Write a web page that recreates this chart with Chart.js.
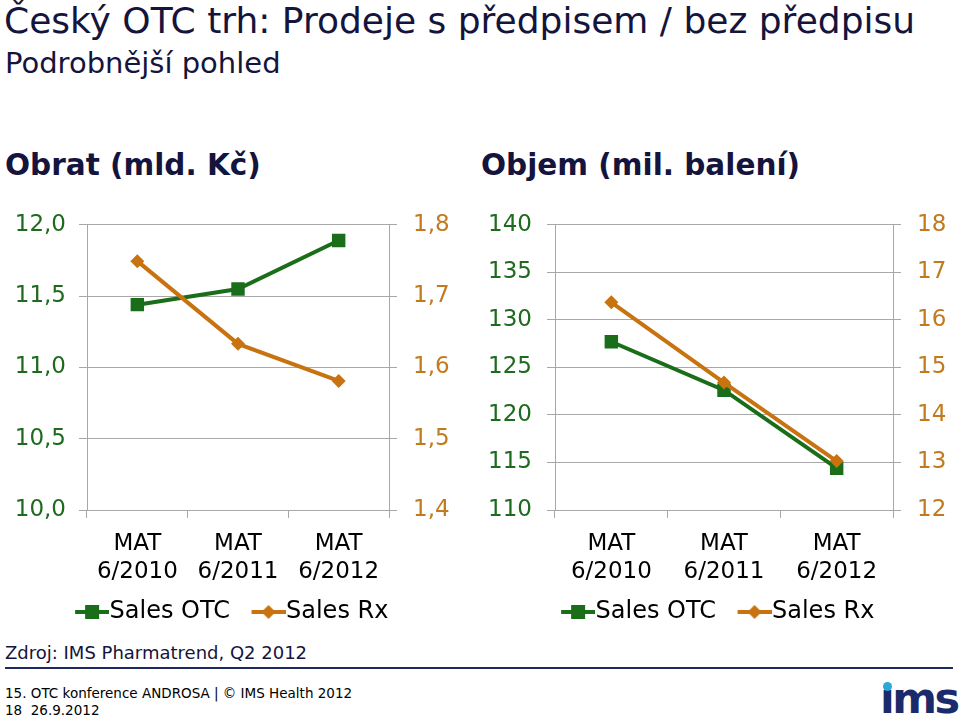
<!DOCTYPE html>
<html>
<head>
<meta charset="utf-8">
<script src="https://cdn.jsdelivr.net/npm/chart.js@4.4.1/dist/chart.umd.min.js"></script>
<style>
  body { margin: 0; background: #fff; font-family: 'DejaVu Sans', Verdana, sans-serif; color: #14143c; }
  .abs { position: absolute; white-space: nowrap; }
  #title { left: 4px; top: 0px; font-size: 36px; }
  #subtitle { left: 5px; top: 46px; font-size: 29px; }
  .head { font-size: 29.5px; font-weight: bold; top: 148px; }
  #src { left: 5px; top: 642px; font-size: 18px; }
  #rule { left: 5px; top: 667px; width: 948px; height: 2px; background: #1e2a5e; }
  .foot { left: 5px; font-size: 13.5px; color: #000; }
  #logo { left: 880px; top: 673px; font-size: 43px; font-weight: bold; color: #1b2a6b; letter-spacing: -2.5px; }
  #dot { left: 883px; top: 682px; width: 9px; height: 9px; border-radius: 50%; background: #2aa8d6; }
</style>
</head>
<body>
<div id="title" class="abs">Český OTC trh: Prodeje s předpisem / bez předpisu</div>
<div id="subtitle" class="abs">Podrobnější pohled</div>
<div class="abs head" style="left:5px">Obrat (mld. Kč)</div>
<div class="abs head" style="left:481px">Objem (mil. balení)</div>

<div class="abs" style="left:0;top:195px;width:470px;height:439px"><canvas id="chartValue"></canvas></div>
<div class="abs" style="left:470px;top:195px;width:490px;height:439px"><canvas id="chartVolume"></canvas></div>

<div id="src" class="abs">Zdroj: IMS Pharmatrend, Q2 2012</div>
<div id="rule" class="abs"></div>
<div class="abs foot" style="top:685px">15. OTC konference ANDROSA | © IMS Health 2012</div>
<div class="abs foot" style="top:702px">18&nbsp;&nbsp;26.9.2012</div>
<div id="logo" class="abs">ıms</div>
<div id="dot" class="abs"></div>

<script>
const categories = [['MAT', '6/2010'], ['MAT', '6/2011'], ['MAT', '6/2012']];
const seriesNames = ['Sales OTC', 'Sales Rx'];

// Obrat (mld. Kč)
const otcValue = [11.44, 11.55, 11.89];
const rxValue = [1.749, 1.633, 1.581];
// Objem (mil. balení)
const otcVolume = [127.7, 122.6, 114.4];
const rxVolume = [16.37, 14.68, 13.03];

const green = '#1a6e1a';
const orange = '#c8730f';
const greenText = '#1e6a1e';
const orangeText = '#c27a1e';
const gridColor = '#a8a8a8';

Chart.defaults.font.family = "'DejaVu Sans', Verdana, sans-serif";
Chart.defaults.font.size = 23;
Chart.defaults.color = '#000';

// legend symbol: line with marker, drawn in the right 34px of a 57px canvas
function legendIcon(color, shape) {
  let c = document.createElement('canvas');
  c.width = 57; c.height = 16;
  let ctx = c.getContext('2d');
  let x0 = 23;
  ctx.strokeStyle = color;
  ctx.lineWidth = 4;
  ctx.beginPath(); ctx.moveTo(x0, 8); ctx.lineTo(x0 + 34, 8); ctx.stroke();
  ctx.fillStyle = color;
  if (shape === 'rect') {
    ctx.fillRect(x0 + 10, 1, 14, 14);
  } else {
    ctx.beginPath();
    ctx.moveTo(x0 + 17, 1); ctx.lineTo(x0 + 24, 8); ctx.lineTo(x0 + 17, 15); ctx.lineTo(x0 + 10, 8);
    ctx.closePath(); ctx.fill();
  }
  return c;
}

const icons = [legendIcon(green, 'rect'), legendIcon(orange, 'diamond')];

// nudge the legend sideways after layout
const legendShift = {
  id: 'legendShift',
  afterLayout(chart, args, opts) {
    chart.legend.left += opts.dx;
    chart.legend.right += opts.dx;
  }
};

function comma(dec) {
  return v => Number(v).toFixed(dec).replace('.', ',');
}

function makeChart(id, otc, rx, left, right, leftWidth, rightWidth, leftPad, rightPad, dx) {
  new Chart(document.getElementById(id), {
    type: 'line',
    plugins: [legendShift],
    data: {
      labels: categories,
      datasets: [
        {
          label: seriesNames[0], data: otc, yAxisID: 'y', order: 1,
          borderColor: green, backgroundColor: green, borderWidth: 4,
          pointStyle: 'rect', pointRadius: 9.5, pointBorderWidth: 0, pointHoverRadius: 9.5
        },
        {
          label: seriesNames[1], data: rx, yAxisID: 'y1', order: 0,
          borderColor: orange, backgroundColor: orange, borderWidth: 4,
          pointStyle: 'rectRot', pointRadius: 7, pointBorderWidth: 0, pointHoverRadius: 7
        }
      ]
    },
    options: {
      responsive: true,
      maintainAspectRatio: false,
      animation: false,
      layout: { padding: { top: 28, bottom: 0, left: 0, right: 0 } },
      plugins: {
        tooltip: { enabled: false },
        legendShift: { dx: dx },
        legend: {
          position: 'bottom',
          labels: {
            usePointStyle: true,
            pointStyleWidth: 34,
            padding: 10,
            color: '#000',
            font: { size: 24 },
            generateLabels: chart => chart.data.datasets.map((ds, i) => ({
              text: ds.label, pointStyle: icons[i], datasetIndex: i,
              fillStyle: ds.borderColor, strokeStyle: ds.borderColor, lineWidth: 0, hidden: false
            }))
          }
        }
      },
      scales: {
        x: {
          offset: true,
          grid: { offset: true, drawOnChartArea: false, drawTicks: true, tickLength: 8, color: gridColor },
          border: { display: true, color: gridColor },
          ticks: { color: '#000', padding: 12, font: { size: 23, lineHeight: 1.22 }, maxRotation: 0 },
          afterFit: s => { s.height = 80; }
        },
        y: {
          position: 'left',
          min: left.min, max: left.max,
          grid: { color: gridColor, tickLength: 8 },
          border: { display: true, color: gridColor },
          ticks: { stepSize: left.step, color: greenText, padding: leftPad, callback: comma(left.dec) },
          afterFit: s => { s.width = leftWidth; }
        },
        y1: {
          position: 'right',
          min: right.min, max: right.max,
          grid: { drawOnChartArea: false, color: gridColor, tickLength: 8 },
          border: { display: true, color: gridColor },
          ticks: { stepSize: right.step, color: orangeText, padding: rightPad, callback: comma(right.dec) },
          afterFit: s => { s.width = rightWidth; }
        }
      }
    }
  });
}

makeChart('chartValue', otcValue, rxValue,
  { min: 10, max: 12, step: 0.5, dec: 1 }, { min: 1.4, max: 1.8, step: 0.1, dec: 1 },
  87, 81, 13, 16, -9);
makeChart('chartVolume', otcVolume, rxVolume,
  { min: 110, max: 140, step: 5, dec: 0 }, { min: 12, max: 18, step: 1, dec: 0 },
  85, 67, 15, 16, -3);
</script>
</body>
</html>
